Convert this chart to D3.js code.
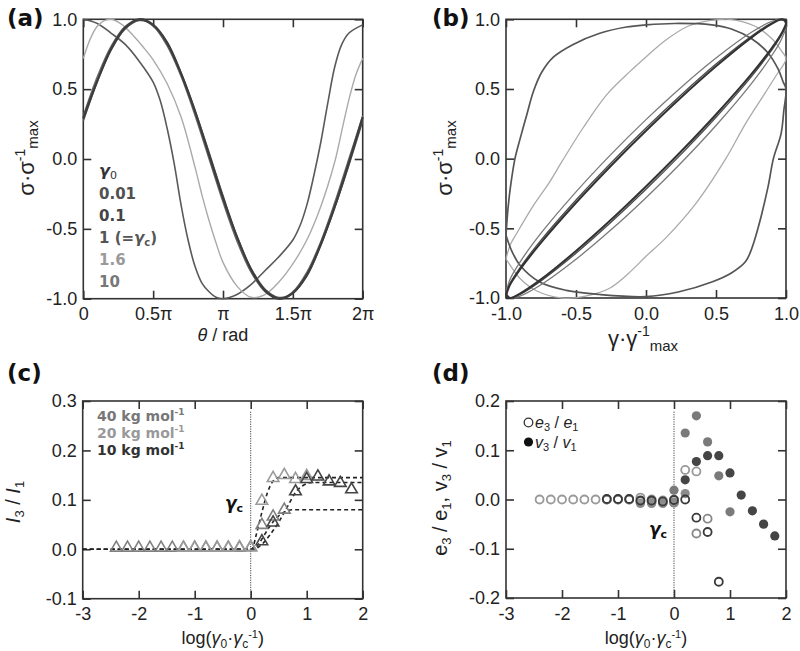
<!DOCTYPE html>
<html>
<head>
<meta charset="utf-8">
<script src="https://cdn.jsdelivr.net/npm/d3@7"></script>
<style>
body { margin: 0; background: #fff; }
text { font-family: "Liberation Sans", Arial, sans-serif; }
</style>
</head>
<body>
<script>
// ---- panel (a): stress vs phase angle (theta in units of pi)
var thetaSin = [0,0.1,0.2,0.3,0.4,0.5,0.6,0.7,0.8,0.9,1.0,1.1,1.2,1.3,1.4,1.5,1.6,1.7,1.8,1.9,2.0]
var sigA001 = [0.29,0.56,0.79,0.94,1.0,0.96,0.83,0.61,0.34,0.03,-0.28,-0.56,-0.79,-0.94,-1.0,-0.96,-0.83,-0.61,-0.34,-0.03,0.3]
var sigA01 = [0.27,0.55,0.78,0.93,0.99,0.96,0.84,0.62,0.35,0.05,-0.26,-0.55,-0.78,-0.93,-0.99,-0.96,-0.84,-0.62,-0.35,-0.05,0.27]
var sigA1 = [0.31,0.59,0.81,0.95,1.0,0.95,0.81,0.59,0.31,0.0,-0.31,-0.59,-0.81,-0.95,-1.0,-0.95,-0.81,-0.59,-0.31,0.0,0.31]
var thetaA16 = [0,0.05,0.1,0.15,0.2,0.28,0.36,0.43,0.5,0.6,0.7,0.8,0.85,0.9,0.95,1.0,1.1,1.2,1.3,1.4,1.5,1.6,1.7,1.8,1.85,1.9,1.95,2.0]
var sigA16 = [0.72,0.86,0.95,0.99,1.0,0.96,0.88,0.8,0.71,0.54,0.3,-0.06,-0.26,-0.44,-0.6,-0.74,-0.91,-0.99,-0.97,-0.88,-0.75,-0.58,-0.34,-0.02,0.2,0.42,0.6,0.72]
var thetaA10 = [0,0.1,0.2,0.3,0.4,0.5,0.55,0.6,0.65,0.7,0.75,0.8,0.85,0.9,0.95,1.0,1.1,1.2,1.3,1.4,1.5,1.55,1.6,1.65,1.7,1.75,1.8,1.85,1.9,2.0]
var sigA10 = [1.0,0.97,0.9,0.82,0.7,0.55,0.42,0.22,-0.03,-0.33,-0.58,-0.77,-0.89,-0.95,-0.99,-1.0,-0.97,-0.9,-0.8,-0.7,-0.58,-0.48,-0.33,-0.12,0.12,0.4,0.66,0.82,0.9,0.96]

// ---- panel (b): Lissajous loops
var gamEll = [-1,-0.97,-0.9,-0.75,-0.5,-0.25,0,0.25,0.5,0.75,0.9,0.97,1,0.97,0.9,0.75,0.5,0.25,0,-0.25,-0.5,-0.75,-0.9,-0.97,-1]
var sigEll001 = [-0.98,-0.902,-0.795,-0.603,-0.317,-0.051,0.2,0.439,0.663,0.867,0.969,1.0,0.98,0.902,0.795,0.603,0.317,0.051,-0.2,-0.439,-0.663,-0.867,-0.969,-1.0,-0.98]
var sigEll01 = [-0.975,-0.893,-0.782,-0.585,-0.297,-0.031,0.22,0.457,0.679,0.877,0.974,0.999,0.975,0.893,0.782,0.585,0.297,0.031,-0.22,-0.457,-0.679,-0.877,-0.974,-0.999,-0.975]
var sigEll1 = [-0.96,-0.863,-0.742,-0.535,-0.238,0.031,0.28,0.511,0.722,0.905,0.986,0.999,0.96,0.863,0.742,0.535,0.238,-0.031,-0.28,-0.511,-0.722,-0.905,-0.986,-0.999,-0.96]
var gamB16 = [-1,-0.97,-0.92,-0.8,-0.69,-0.6,-0.45,-0.28,-0.11,0,0.14,0.3,0.45,0.6,0.78,0.9,0.97,1,
              0.98,0.945,0.85,0.71,0.57,0.35,0.14,0,-0.1,-0.26,-0.45,-0.6,-0.78,-0.9,-0.96,-1]
var sigB16 = [-0.72,-0.62,-0.53,-0.33,-0.17,-0.02,0.22,0.46,0.63,0.73,0.85,0.95,0.99,1.0,0.95,0.86,0.77,0.72,
              0.67,0.62,0.47,0.25,0.0,-0.33,-0.57,-0.7,-0.8,-0.93,-0.99,-1.0,-0.95,-0.86,-0.78,-0.72]
var gamB10 = [-1,-0.985,-0.965,-0.936,-0.9,-0.85,-0.805,-0.745,-0.66,-0.52,-0.33,-0.14,0,0.2,0.47,0.61,0.755,0.87,0.945,0.98,1.0,
              0.985,0.965,0.91,0.87,0.8,0.75,0.71,0.61,0.47,0.23,0,-0.33,-0.57,-0.76,-0.9,-0.96,-1]
var sigB10 = [-0.55,-0.35,-0.18,0.0,0.14,0.32,0.48,0.62,0.73,0.82,0.9,0.945,0.96,0.97,0.96,0.93,0.86,0.76,0.64,0.55,0.5,
              0.35,0.18,0.0,-0.21,-0.5,-0.66,-0.74,-0.82,-0.885,-0.957,-0.99,-0.975,-0.945,-0.885,-0.765,-0.66,-0.55]

// ---- panel (c): I3/I1 vs log(gamma0/gammac)
var xC40 = [-2.4,-2.2,-2.0,-1.8,-1.6,-1.4,-1.2,-1.0,-0.8,-0.6,-0.4,-0.2,0,0.2,0.4,0.6]
var yC40 = [0.003,0.003,0.003,0.003,0.003,0.003,0.003,0.003,0.003,0.003,0.003,0.003,0.004,0.049,0.066,0.08]
var xC20 = [-1.2,-1.0,-0.8,-0.6,-0.4,-0.2,0,0.2,0.4,0.6,0.8,1.0]
var yC20 = [0.003,0.003,0.003,0.003,0.003,0.004,0.004,0.098,0.144,0.15,0.142,0.148]
var xC10 = [0.2,0.4,0.8,1.0,1.2,1.4,1.6,1.8]
var yC10 = [0.016,0.054,0.117,0.142,0.147,0.137,0.134,0.121]
var fitX20 = [-3,0.02,0.1,0.2,0.3,0.4,0.5,2]
var fitY20 = [0,0,0.03,0.075,0.115,0.138,0.145,0.145]
var fitX10 = [-3,0.05,0.2,0.35,0.5,0.65,0.8,0.95,1.1,2]
var fitY10 = [0,0,0.01,0.03,0.055,0.085,0.115,0.13,0.135,0.135]
var fitX40 = [-3,0.05,0.15,0.25,0.35,0.45,0.55,0.65,0.75,2]
var fitY40 = [0,0,0.012,0.03,0.048,0.062,0.072,0.078,0.08,0.08]

// ---- panel (d): e3/e1 (open) and v3/v1 (filled)
var xDeA = [-2.4,-2.2,-2.0,-1.8,-1.6,-1.4,-1.2,-1.0,-0.8,-0.6,-0.4,-0.2,0,0.2,0.4]
var yDeA = [0,0,0,0,0,0,0,0,0,0.004,0,-0.002,0,0.06,0.057]
var xDeB = [-1.2,-1.0,-0.8,-0.6,-0.4,-0.2,0,0.4,0.6]
var yDeB = [0,0,0,-0.004,-0.005,-0.006,-0.006,-0.069,-0.039]
var xDeC = [-1.2,-1.0,-0.8,-0.6,-0.4,-0.2,0,0.2,0.4,0.6,0.8]
var yDeC = [0.001,0.001,0.001,-0.002,-0.002,-0.004,-0.001,0.0,-0.037,-0.066,-0.167]
var xDvA = [0,0.2,0.4,0.6,0.8,1.0]
var yDvA = [0.019,0.135,0.17,0.117,0.048,-0.025]
var xDvB = [-0.6,-0.4,-0.2,0,0.2]
var yDvB = [-0.008,-0.008,-0.008,-0.007,0.012]
var xDvC = [0.2,0.4,0.6,0.8,1.0,1.2,1.4,1.6,1.8]
var yDvC = [0.04,0.077,0.089,0.089,0.054,0.009,-0.023,-0.05,-0.074]

// ---- ticks
var ticksTheta = [0,0.5,1,1.5,2]
var labelsTheta = ["0","0.5\u03c0","\u03c0","1.5\u03c0","2\u03c0"]
var ticksUnit = [-1,-0.5,0,0.5,1]
var labelsUnit = ["-1.0","-0.5","0.0","0.5","1.0"]
var ticksLog = [-3,-2,-1,0,1,2]
var labelsLog = ["-3","-2","-1","0","1","2"]
var ticksC = [-0.1,0,0.1,0.2,0.3]
var labelsC = ["-0.1","0.0","0.1","0.2","0.3"]
var ticksD = [-0.2,-0.1,0,0.1,0.2]
var labelsD = ["-0.2","-0.1","0.0","0.1","0.2"]

var legendA = ["0.01","0.1","1","1.6","10"]
var legendAcol = ["#505050","#444","#555","#9a9a9a","#777"]
var legendC = ["40","20","10"]
var legendCcol = ["#777","#999","#333"]

var width = 800
var height = 651

var svg = d3.select("body")
            .append("svg")
            .attr("width",width)
            .attr("height",height)

var zip = function(xs, ys){
  return xs.map(function(x,i){ return [x, ys[i]] })
}

var drawPanel = function(x, y, xt, xl, yt, yl){
  var g = svg.append("g")
  g.append("rect")
    .attr("x",x.range()[0])
    .attr("y",y.range()[1])
    .attr("width",x.range()[1]-x.range()[0])
    .attr("height",y.range()[0]-y.range()[1])
    .attr("fill","none")
    .attr("stroke","#333")
    .attr("stroke-width",1.6)
  var axes = [
    [d3.axisBottom(x).tickValues(xt).tickFormat(function(d,i){ return xl[i] }).tickPadding(9), "translate(0,"+y.range()[0]+")"],
    [d3.axisTop(x).tickValues(xt).tickFormat(""), "translate(0,"+y.range()[1]+")"],
    [d3.axisLeft(y).tickValues(yt).tickFormat(function(d,i){ return yl[i] }).tickPadding(6), "translate("+x.range()[0]+",0)"],
    [d3.axisRight(y).tickValues(yt).tickFormat(""), "translate("+x.range()[1]+",0)"]
  ]
  axes.forEach(function(a){
    var ax = g.append("g")
              .attr("transform",a[1])
              .call(a[0].tickSize(-8))
    ax.select(".domain").remove()
    ax.selectAll("line").attr("stroke","#333").attr("stroke-width",1.6)
    ax.selectAll("text")
      .attr("font-size",18)
      .attr("fill","#222")
      .attr("font-family","'Liberation Sans', Arial, sans-serif")
  })
  return g
}

// text made of pieces: {t, s, dy, i, b, f}
var rich = function(parent, x, y, parts, anchor, rotate, color){
  var t = parent.append("text")
  if (rotate) {
    t.attr("transform","translate("+x+","+y+") rotate(-90)")
  } else {
    t.attr("x",x).attr("y",y)
  }
  t.attr("text-anchor",anchor || "start").attr("fill",color || "#222")
  parts.forEach(function(p){
    var s = t.append("tspan").text(p.t).attr("font-size",p.s)
    if (p.dy) s.attr("dy",p.dy)
    if (p.i) s.attr("font-style","italic")
    if (p.b) s.attr("font-weight","bold")
    if (p.f) s.attr("font-family",p.f)
  })
  return t
}

var smooth = d3.line().curve(d3.curveCatmullRom.alpha(0.5))

// ===================== (a)
var xA = d3.scaleLinear().domain([0,2]).range([83.3,362.7])
var yA = d3.scaleLinear().domain([-1,1]).range([298.7,19.3])
var gA = drawPanel(xA, yA, ticksTheta, labelsTheta, ticksUnit, labelsUnit)

var curvesA = [
  [thetaA10, sigA10, "#5a5a5a", 1.6],
  [thetaA16, sigA16, "#aaa", 1.4],
  [thetaSin, sigA1, "#6a6a6a", 1.3],
  [thetaSin, sigA01, "#555", 1.3],
  [thetaSin, sigA001, "#3d3d3d", 2.3]
]
curvesA.forEach(function(c){
  gA.append("path")
    .attr("d", smooth(zip(c[0],c[1]).map(function(p){ return [xA(p[0]), yA(p[1])] })))
    .attr("fill","none")
    .attr("stroke",c[2])
    .attr("stroke-width",c[3])
})

var bold = "'DejaVu Sans', sans-serif"
rich(gA, 99, 176, [{t:"\u03b3", s:16, i:true, b:true, f:bold},{t:"0", s:11, dy:3, f:bold}], "start", false, "#333")
legendA.forEach(function(name,i){
  var parts = [{t:name, s:15, b:true, f:bold}]
  if (name == "1") {
    parts = [{t:"1 (=", s:15, b:true, f:bold},{t:"\u03b3", s:15, b:true, i:true, f:bold},
             {t:"c", s:10, b:true, dy:3, f:bold},{t:")", s:15, b:true, dy:-3, f:bold}]
  }
  rich(gA, 99, 198.5+i*22.2, parts, "start", false, legendAcol[i])
})

rich(gA, 223, 341, [{t:"\u03b8", s:18, i:true},{t:" / rad", s:18}], "middle")
rich(gA, 34, 158, [{t:"\u03c3\u00b7\u03c3", s:22},{t:"-1", s:14, dy:-9},{t:"max", s:15, dy:13}], "middle", true)
rich(gA, 7, 26, [{t:"(a)", s:23, b:true, f:bold}], "start", false, "#111")

// ===================== (b)
var xB = d3.scaleLinear().domain([-1,1]).range([506,786])
var yB = d3.scaleLinear().domain([-1,1]).range([298,19.3])
var gB = drawPanel(xB, yB, ticksUnit, labelsUnit, ticksUnit, labelsUnit)

var curvesB = [
  [gamB16, sigB16, "#aaa", 1.3],
  [gamB10, sigB10, "#555", 1.7],
  [gamEll, sigEll1, "#7a7a7a", 1.3],
  [gamEll, sigEll01, "#4a4a4a", 1.3],
  [gamEll, sigEll001, "#333", 2.1]
]
curvesB.forEach(function(c){
  gB.append("path")
    .attr("d", smooth(zip(c[0],c[1]).map(function(p){ return [xB(p[0]), yB(p[1])] })))
    .attr("fill","none")
    .attr("stroke",c[2])
    .attr("stroke-width",c[3])
})

rich(gB, 643, 346, [{t:"\u03b3\u00b7\u03b3", s:22},{t:"-1", s:14, dy:-10},{t:"max", s:15, dy:15}], "middle")
rich(gB, 452, 158, [{t:"\u03c3\u00b7\u03c3", s:22},{t:"-1", s:14, dy:-9},{t:"max", s:15, dy:13}], "middle", true)
rich(gB, 432, 26, [{t:"(b)", s:23, b:true, f:bold}], "start", false, "#111")

// ===================== (c)
var xC = d3.scaleLinear().domain([-3,2]).range([82.7,362.7])
var yC = d3.scaleLinear().domain([-0.1,0.3]).range([598.7,401])
var gC = drawPanel(xC, yC, ticksLog, labelsLog, ticksC, labelsC)

gC.append("line")
  .attr("x1",xC(0)).attr("x2",xC(0))
  .attr("y1",411.7).attr("y2",yC(-0.1))
  .attr("stroke","#444").attr("stroke-width",1).attr("stroke-dasharray","1.2,1.2")

var lin = d3.line().curve(d3.curveMonotoneX)
;[[fitX20,fitY20],[fitX10,fitY10],[fitX40,fitY40]].forEach(function(f){
  gC.append("path")
    .attr("d", lin(zip(f[0],f[1]).map(function(p){ return [xC(p[0]), yC(p[1])] })))
    .attr("fill","none")
    .attr("stroke","#222")
    .attr("stroke-width",1.6)
    .attr("stroke-dasharray","4,3")
})

var tri = d3.symbol().type(d3.symbolTriangle).size(58)
;[[xC40,yC40,"#808080"],[xC20,yC20,"#9a9a9a"],[xC10,yC10,"#444"]].forEach(function(s){
  gC.selectAll(null)
    .data(zip(s[0],s[1]))
    .enter()
    .append("path")
    .attr("d",tri)
    .attr("transform",function(d){ return "translate("+xC(d[0])+","+yC(d[1])+")" })
    .attr("fill","none")
    .attr("stroke",s[2])
    .attr("stroke-width",1.6)
})

legendC.forEach(function(name,i){
  rich(gC, 97, 420.7+i*17.2, [{t:name+" kg mol", s:14, b:true, f:bold},{t:"-1", s:9, b:true, dy:-6, f:bold}], "start", false, legendCcol[i])
})
rich(gC, 243, 509, [{t:"\u03b3", s:17, b:true, i:true, f:bold},{t:"c", s:11, b:true, dy:3, f:bold}], "end", false, "#111")

var logLabel = function(g, cx){
  rich(g, cx, 644, [{t:"log(", s:18},{t:"\u03b3", s:18, i:true},{t:"0", s:12, dy:4},{t:"\u00b7", s:18, dy:-4},
                    {t:"\u03b3", s:18, i:true},{t:"c", s:12, dy:4},{t:"-1", s:11, dy:-10},{t:")", s:18, dy:6}], "middle")
}
logLabel(gC, 222.7)
rich(gC, 20, 502, [{t:"I", s:20, i:true},{t:"3", s:13, dy:4},{t:" / ", s:20, dy:-4},{t:"I", s:20, i:true},{t:"1", s:13, dy:4}], "middle", true)
rich(gC, 7, 381, [{t:"(c)", s:23, b:true, f:bold}], "start", false, "#111")

// ===================== (d)
var xD = d3.scaleLinear().domain([-3,2]).range([506,786])
var yD = d3.scaleLinear().domain([-0.2,0.2]).range([598,401])
var gD = drawPanel(xD, yD, ticksLog, labelsLog, ticksD, labelsD)

gD.append("line")
  .attr("x1",xD(0)).attr("x2",xD(0))
  .attr("y1",411.7).attr("y2",yD(-0.2))
  .attr("stroke","#444").attr("stroke-width",1).attr("stroke-dasharray","1.2,1.2")

;[[xDvB,yDvB,"#8c8c8c"],[xDvA,yDvA,"#7a7a7a"],[xDvC,yDvC,"#454545"]].forEach(function(s){
  gD.selectAll(null)
    .data(zip(s[0],s[1]))
    .enter()
    .append("circle")
    .attr("cx",function(d){ return xD(d[0]) })
    .attr("cy",function(d){ return yD(d[1]) })
    .attr("r",4.6)
    .attr("fill",s[2])
})
;[[xDeA,yDeA,"#999"],[xDeB,yDeB,"#888"],[xDeC,yDeC,"#3a3a3a"]].forEach(function(s){
  gD.selectAll(null)
    .data(zip(s[0],s[1]))
    .enter()
    .append("circle")
    .attr("cx",function(d){ return xD(d[0]) })
    .attr("cy",function(d){ return yD(d[1]) })
    .attr("r",4)
    .attr("fill","none")
    .attr("stroke",s[2])
    .attr("stroke-width",1.8)
})

gD.append("circle").attr("cx",528.5).attr("cy",422.5).attr("r",4.3).attr("fill","none").attr("stroke","#333").attr("stroke-width",1.3)
gD.append("circle").attr("cx",528.5).attr("cy",442).attr("r",4.6).attr("fill","#111")
rich(gD, 535, 428, [{t:"e", s:16, i:true},{t:"3", s:11, dy:3},{t:" / ", s:16, dy:-3},{t:"e", s:16, i:true},{t:"1", s:11, dy:3}])
rich(gD, 535, 448, [{t:"v", s:16, i:true},{t:"3", s:11, dy:3},{t:" / ", s:16, dy:-3},{t:"v", s:16, i:true},{t:"1", s:11, dy:3}])
rich(gD, 667, 535, [{t:"\u03b3", s:17, b:true, i:true, f:bold},{t:"c", s:11, b:true, dy:3, f:bold}], "end", false, "#111")

logLabel(gD, 646)
rich(gD, 447, 498, [{t:"e", s:20},{t:"3", s:13, dy:4},{t:" / e", s:20, dy:-4},{t:"1", s:13, dy:4},{t:", v", s:20, dy:-4},
                    {t:"3", s:13, dy:4},{t:" / v", s:20, dy:-4},{t:"1", s:13, dy:4}], "middle", true)
rich(gD, 432, 381, [{t:"(d)", s:23, b:true, f:bold}], "start", false, "#111")
</script>
</body>
</html>
